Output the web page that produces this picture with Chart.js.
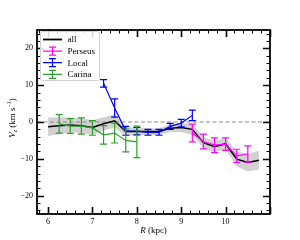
<!DOCTYPE html>
<html>
<head>
<meta charset="utf-8">
<script src="https://cdn.jsdelivr.net/npm/chart.js@4.4.1/dist/chart.umd.min.js"></script>
<style>
  html, body { margin:0; padding:0; background:#fff; }
  canvas { display:block; }
</style>
</head>
<body>
<canvas id="vz" width="300" height="240"></canvas>
<script>
// tick labels
const xTicks = [6, 7, 8, 9, 10];
const yTicks = [-20, -10, 0, 10, 20];

// all stars: running mean + spread
const allR   = [6.0, 6.25, 6.5, 6.75, 7.0, 7.25, 7.5, 7.75, 8.0, 8.25, 8.5, 8.75, 9.0, 9.25, 9.5, 9.75, 10.0, 10.25, 10.5, 10.75];
const allV   = [-1.3, -1.0, -0.8, -1.0, -1.5, -0.5, 0.3, -2.6, -2.6, -2.6, -2.6, -1.7, -1.5, -2.0, -5.6, -6.7, -5.9, -10.1, -11.0, -10.4];
const allErr = [2.5, 2.3, 2.0, 2.0, 2.0, 1.8, 1.8, 1.2, 1.0, 0.9, 0.9, 1.0, 1.2, 1.5, 1.5, 1.5, 1.6, 2.0, 2.4, 2.6];

// arms
const perseusR   = [9.25, 9.5, 9.75, 10.0, 10.25, 10.5];
const perseusV   = [-3.0, -5.3, -6.3, -6.0, -9.2, -8.7];
const perseusErr = [2.4, 2.0, 2.0, 1.7, 1.8, 2.2];

const localR   = [7.25, 7.5, 7.75, 8.0, 8.25, 8.5, 8.75, 9.0, 9.25];
const localV   = [10.5, 3.8, -2.4, -2.5, -2.8, -2.8, -1.2, -0.3, 1.8];
const localErr = [1.0, 2.5, 1.2, 1.0, 0.8, 0.8, 0.8, 1.0, 1.4];

const carinaR   = [6.25, 6.5, 6.75, 7.0, 7.25, 7.5, 7.75, 8.0];
const carinaV   = [-0.5, -1.1, -1.1, -1.6, -3.5, -3.0, -5.0, -5.4];
const carinaErr = [2.5, 2.0, 2.2, 2.0, 2.5, 2.7, 3.1, 4.3];

const serif = "'Liberation Serif', 'DejaVu Serif', serif";

function pts(xs, ys) { return xs.map((x, i) => ({x: x, y: ys[i]})); }

const arms = [
  {label:'Perseus', color:'#ff00ff', r:perseusR, v:perseusV, e:perseusErr},
  {label:'Local',   color:'#0000ff', r:localR,   v:localV,   e:localErr},
  {label:'Carina',  color:'#2ca02c', r:carinaR,  v:carinaV,  e:carinaErr}
];

// error bars, frame, ticks, titles and legend
const decor = {
  id: 'decor',
  afterDatasetsDraw(chart) {
    const c = chart.ctx, xs = chart.scales.x, ys = chart.scales.y, a = chart.chartArea;
    c.save();
    c.beginPath(); c.rect(a.left, a.top, a.right - a.left, a.bottom - a.top); c.clip();
    arms.forEach(arm => {
      c.strokeStyle = arm.color; c.lineWidth = 1.2;
      arm.r.forEach((r, i) => {
        let px = xs.getPixelForValue(r);
        let top = ys.getPixelForValue(arm.v[i] + arm.e[i]);
        let bot = ys.getPixelForValue(arm.v[i] - arm.e[i]);
        c.beginPath();
        c.moveTo(px, top); c.lineTo(px, bot);
        c.moveTo(px - 3.5, top); c.lineTo(px + 3.5, top);
        c.moveTo(px - 3.5, bot); c.lineTo(px + 3.5, bot);
        c.stroke();
      });
    });
    c.restore();
  },
  afterDraw(chart) {
    const c = chart.ctx, xs = chart.scales.x, ys = chart.scales.y, a = chart.chartArea;
    c.save();
    c.strokeStyle = '#000';
    // ticks (inside, all four sides)
    for (let v = 5.8; v <= 11.001; v += 0.2) {
      let px = Math.round(xs.getPixelForValue(v)) + 0.5;
      let major = Math.abs(v - Math.round(v)) < 0.01;
      let len = major ? 7 : 3.5;
      c.lineWidth = major ? 1.6 : 1;
      c.beginPath();
      c.moveTo(px, a.bottom); c.lineTo(px, a.bottom - len);
      c.moveTo(px, a.top); c.lineTo(px, a.top + len);
      c.stroke();
    }
    for (let v = -24; v <= 24; v += 2) {
      let py = Math.round(ys.getPixelForValue(v)) + 0.5;
      let major = v % 10 === 0;
      let len = major ? 7 : 3.5;
      c.lineWidth = major ? 1.6 : 1;
      c.beginPath();
      c.moveTo(a.left, py); c.lineTo(a.left + len, py);
      c.moveTo(a.right, py); c.lineTo(a.right - len, py);
      c.stroke();
    }
    // frame
    c.lineWidth = 1.8;
    c.strokeRect(a.left, a.top, a.right - a.left, a.bottom - a.top);

    // axis titles
    c.fillStyle = '#000';
    c.textBaseline = 'alphabetic';
    c.font = 'italic 9px ' + serif;
    let rw = c.measureText('R').width;
    c.font = '9px ' + serif;
    let kw = c.measureText(' (kpc)').width;
    let x0 = (a.left + a.right) / 2 - (rw + kw) / 2;
    c.font = 'italic 9px ' + serif;
    c.fillText('R', x0, 233);
    c.font = '9px ' + serif;
    c.fillText(' (kpc)', x0 + rw, 233);

    c.save();
    c.translate(15, (a.top + a.bottom) / 2 - 4);
    c.rotate(-Math.PI / 2);
    c.font = 'italic 9px ' + serif;
    let vw = c.measureText('V').width;
    c.font = 'italic 6px ' + serif;
    let zw = c.measureText('z').width;
    c.font = '9px ' + serif;
    let uw = c.measureText(' (km s').width;
    c.font = '6px ' + serif;
    let ew = c.measureText('−1').width;
    c.font = '9px ' + serif;
    let pw = c.measureText(')').width;
    let sx = -(vw + zw + uw + ew + pw) / 2;
    c.font = 'italic 9px ' + serif; c.fillText('V', sx, 0); sx += vw;
    c.font = 'italic 6px ' + serif; c.fillText('z', sx, 2); sx += zw;
    c.font = '9px ' + serif; c.fillText(' (km s', sx, 0); sx += uw;
    c.font = '6px ' + serif; c.fillText('−1', sx, -4); sx += ew;
    c.font = '9px ' + serif; c.fillText(')', sx, 0);
    c.restore();

    // legend
    const lx = a.left + 3.5, ly = a.top + 1.5, lw = 59, lh = 49;
    c.fillStyle = 'rgba(255,255,255,0.85)';
    c.strokeStyle = '#d0d0d0'; c.lineWidth = 1;
    c.beginPath();
    c.roundRect(lx, ly, lw, lh, 2);
    c.fill(); c.stroke();
    const rows = [{label:'all', color:'#000', bar:false}].concat(
      arms.map(m => ({label:m.label, color:m.color, bar:true})));
    rows.forEach((row, i) => {
      let yy = ly + 8 + i * 11.6;
      c.strokeStyle = row.color;
      c.lineWidth = row.bar ? 1.2 : 1.8;
      c.beginPath();
      c.moveTo(lx + 2.5, yy); c.lineTo(lx + 21.5, yy);
      if (row.bar) {
        let mx = lx + 12;
        c.moveTo(mx, yy - 4); c.lineTo(mx, yy + 4);
        c.moveTo(mx - 3.5, yy - 4); c.lineTo(mx + 3.5, yy - 4);
        c.moveTo(mx - 3.5, yy + 4); c.lineTo(mx + 3.5, yy + 4);
      }
      c.stroke();
      c.fillStyle = '#000';
      c.font = '9px ' + serif;
      c.textBaseline = 'middle';
      c.fillText(row.label, lx + 27, yy + 0.5);
    });
    c.restore();
  }
};

const datasets = [
  {data: pts(allR, allV.map((v, i) => v + allErr[i])), borderWidth:0, pointRadius:0, fill:false, order:10},
  {data: pts(allR, allV.map((v, i) => v - allErr[i])), borderWidth:0, pointRadius:0,
   fill:'-1', backgroundColor:'rgba(190,190,190,0.7)', order:10},
  {data: [{x:5.75, y:0}, {x:11, y:0}], borderColor:'#8c8c8c', borderWidth:1.2, borderDash:[4, 2.5], pointRadius:0, order:9},
  {label:'all', data: pts(allR, allV), borderColor:'#000', borderWidth:1.5, pointRadius:0, order:5}
].concat(arms.map(m => ({
  label:m.label, data: pts(m.r, m.v), borderColor:m.color, borderWidth:1.2, pointRadius:0, order:1
})));

new Chart(document.getElementById('vz').getContext('2d'), {
  type: 'line',
  data: { datasets: datasets },
  options: {
    responsive: false,
    animation: false,
    layout: { padding: {top:30, right:30, left:0, bottom:0} },
    plugins: { legend:{display:false}, tooltip:{enabled:false} },
    elements: { line:{tension:0} },
    scales: {
      x: {
        type:'linear', min:5.75, max:11,
        grid:{display:false, drawTicks:false}, border:{display:false},
        ticks:{color:'#000', font:{family:serif, size:8}, padding:3},
        afterBuildTicks: s => { s.ticks = xTicks.map(v => ({value:v})); },
        afterFit: s => { s.height = 26; }
      },
      y: {
        type:'linear', min:-25, max:25,
        grid:{display:false, drawTicks:false}, border:{display:false},
        ticks:{color:'#000', font:{family:serif, size:8}, padding:4,
               callback: v => v < 0 ? '−' + Math.abs(v) : String(v)},
        afterBuildTicks: s => { s.ticks = yTicks.map(v => ({value:v})); },
        afterFit: s => { s.width = 37; }
      }
    }
  },
  plugins: [decor]
});
</script>
</body>
</html>
